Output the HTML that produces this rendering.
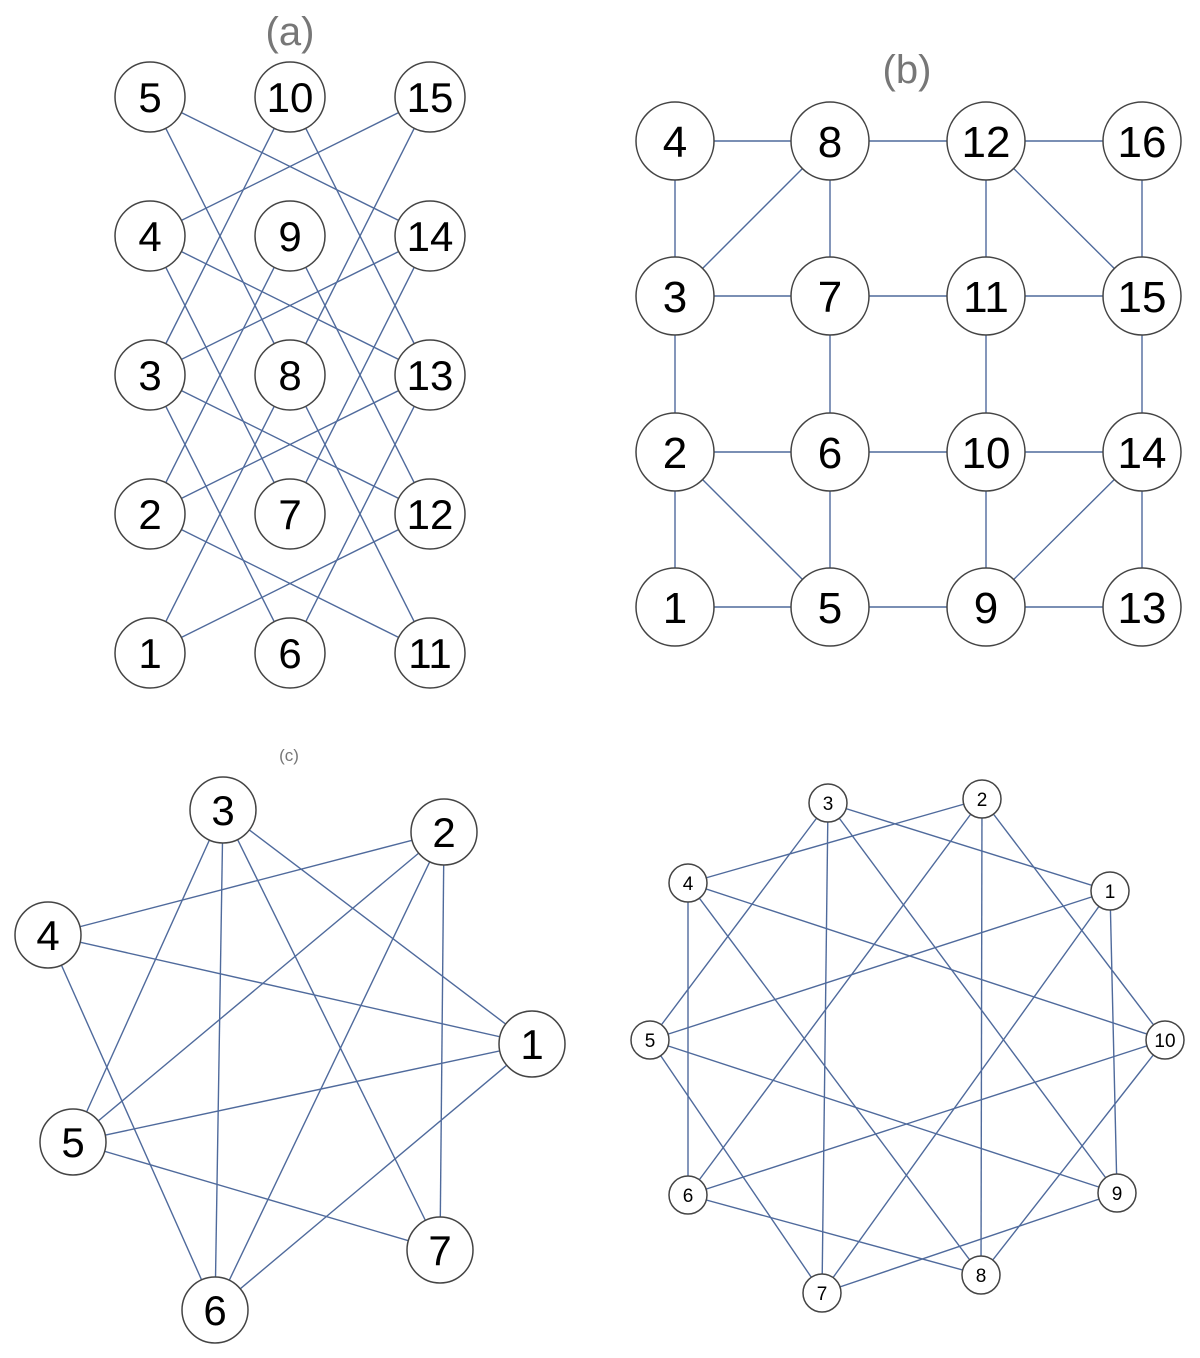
<!DOCTYPE html>
<html><head><meta charset="utf-8">
<style>
html,body{margin:0;padding:0;background:#fff;}
svg{display:block;}
</style></head>
<body>
<svg id="chart" width="1200" height="1358" viewBox="0 0 1200 1358" xmlns="http://www.w3.org/2000/svg">
<text x="290" y="45" font-family="Liberation Sans, sans-serif" font-size="40" fill="#777" text-anchor="middle">(a)</text>
<text x="907" y="83" font-family="Liberation Sans, sans-serif" font-size="40" fill="#777" text-anchor="middle">(b)</text>
<text x="289" y="761" font-family="Liberation Sans, sans-serif" font-size="17" fill="#777" text-anchor="middle">(c)</text>
</svg>
<script>
// Panel A
const aNodes = [[5,150,97],[10,290,97],[15,430,97],[4,150,236],[9,290,236],[14,430,236],[3,150,375],[8,290,375],[13,430,375],[2,150,514],[7,290,514],[12,430,514],[1,150,653],[6,290,653],[11,430,653]];
const aEdges = [[5,8],[5,14],[10,3],[10,13],[15,4],[15,8],[4,7],[4,13],[9,2],[9,12],[14,3],[14,7],[3,6],[3,12],[8,1],[8,11],[13,2],[13,6],[2,11],[12,1]];
// Panel B
const bNodes = [[4,675,141],[8,830,141],[12,986,141],[16,1142,141],[3,675,296],[7,830,296],[11,986,296],[15,1142,296],[2,675,452],[6,830,452],[10,986,452],[14,1142,452],[1,675,607],[5,830,607],[9,986,607],[13,1142,607]];
const bEdges = [[4,8],[8,12],[12,16],[4,3],[8,7],[8,3],[12,11],[12,15],[16,15],[3,7],[7,11],[11,15],[3,2],[7,6],[11,10],[15,14],[2,6],[6,10],[10,14],[2,1],[2,5],[6,5],[10,9],[14,9],[14,13],[1,5],[5,9],[9,13]];
// Panel C
const cNodes = [[3,223,810],[2,444,832],[4,48,935],[1,532,1044],[5,73,1142],[7,440,1250],[6,215,1310]];
const cEdges = [[4,2],[4,1],[4,6],[3,5],[3,6],[3,7],[3,1],[2,5],[2,6],[2,7],[1,5],[1,6],[5,7]];
// Panel D
const dNodes = [[3,828,803],[2,982,799],[4,688,883],[1,1110,891],[5,650,1040],[10,1165,1040],[6,688,1195],[9,1117,1193],[7,822,1293],[8,981,1275]];
const dEdges = [[3,1],[3,5],[3,7],[3,9],[2,4],[2,6],[2,8],[2,10],[4,6],[4,8],[4,10],[1,5],[1,7],[1,9],[5,7],[5,9],[10,6],[10,8],[6,8],[9,7]];

const NS = "http://www.w3.org/2000/svg";
const svg = document.getElementById('chart');
function drawPanel(id, nodes, edges, r, fs) {
  const g = document.createElementNS(NS,'g');
  
  
  svg.appendChild(g);
  const pos = {};
  nodes.forEach(n => { pos[n[0]] = [n[1], n[2]]; });
  edges.forEach(e => {
    const l = document.createElementNS(NS,'line');
    const p = pos[e[0]], q = pos[e[1]];
    l.setAttribute('x1', p[0]); l.setAttribute('y1', p[1]);
    l.setAttribute('x2', q[0]); l.setAttribute('y2', q[1]);
    l.setAttribute('stroke', '#4f6a9c'); l.setAttribute('stroke-width', '1.4');
    
    
    g.appendChild(l);
  });
  nodes.forEach(n => {
    const c = document.createElementNS(NS,'circle');
    c.setAttribute('cx', n[1]); c.setAttribute('cy', n[2]); c.setAttribute('r', r);
    c.setAttribute('fill', '#fff'); c.setAttribute('stroke', '#444'); c.setAttribute('stroke-width', '1.5');
    
    
    g.appendChild(c);
    const t = document.createElementNS(NS,'text');
    t.setAttribute('x', n[1]); t.setAttribute('y', n[2] + fs*0.36);
    t.setAttribute('text-anchor', 'middle');
    t.setAttribute('font-family', 'Liberation Sans, sans-serif');
    t.setAttribute('font-size', fs);
    t.setAttribute('fill', '#000');
    t.textContent = n[0];
    
    
    g.appendChild(t);
  });
}
drawPanel('a', aNodes, aEdges, 35, 42);
drawPanel('b', bNodes, bEdges, 39, 44);
drawPanel('c', cNodes, cEdges, 33, 42);
drawPanel('d', dNodes, dEdges, 19, 19);
</script>
</body></html>
